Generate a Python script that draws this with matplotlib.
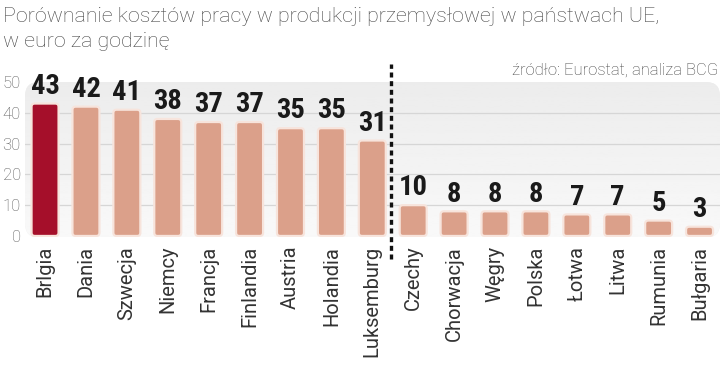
import numpy as np
import matplotlib
matplotlib.use('Agg')
import matplotlib.pyplot as plt
from matplotlib.patches import FancyBboxPatch
from matplotlib import font_manager

# Dane
kraje = ['Brlgia', 'Dania', 'Szwecja', 'Niemcy', 'Francja', 'Finlandia',
         'Austria', 'Holandia', 'Luksemburg', 'Czechy', 'Chorwacja', 'Węgry',
         'Polska', 'Łotwa', 'Litwa', 'Rumunia', 'Bułgaria']
koszt = [43, 42, 41, 38, 37, 37, 35, 35, 31, 10, 8, 8, 8, 7, 7, 5, 3]
yticks = [0, 10, 20, 30, 40, 50]

tytul = 'Porównanie kosztów pracy w produkcji przemysłowej w państwach UE,\nw euro za godzinę'
zrodlo = 'źródło: Eurostat, analiza BCG'

fonts = set(f.name for f in font_manager.fontManager.ttflist)


def pick(*cands):
    for c in cands:
        if c in fonts:
            return c
    return 'DejaVu Sans'


f_light = pick('Roboto', 'Open Sans')
f_num = pick('Roboto Condensed', 'Fira Sans Condensed', 'Asap Condensed',
             'Liberation Sans Narrow')

fig = plt.figure(figsize=(7.2, 3.68), dpi=100)
ax = fig.add_axes([25 / 720, 1 - 237.5 / 368, 1 - 25 / 720, (237.5 - 82) / 368])

# tlo z zaokraglonym rogiem
tlo = FancyBboxPatch((0, 0), 1, 1.0, boxstyle='round,pad=0,rounding_size=0.02',
                     mutation_aspect=4.5, transform=ax.transAxes,
                     facecolor='#f1f1f1', edgecolor='none', zorder=0)
ax.add_patch(tlo)
grad = np.linspace(0.925, 0.975, 100).reshape(-1, 1)
im = ax.imshow(grad, extent=[0, 1, 0, 1], transform=ax.transAxes, cmap='gray',
               vmin=0, vmax=1, aspect='auto', zorder=0.5)
im.set_clip_path(tlo)
ax.set_xlim(-0.49, 16.5)
ax.set_ylim(-0.5, 50)

for y in yticks[1:-1]:
    ax.axhline(y, color='#d6d6d6', lw=0.9, zorder=1)

x = np.arange(len(kraje))
kolory = ['#a50f2a'] + ['#dba08a'] * (len(kraje) - 1)
bars = ax.bar(x, koszt, width=0.66, color='none', edgecolor='none')
for b, c in zip(bars, kolory):
    p = FancyBboxPatch((b.get_x(), 0), b.get_width(), b.get_height(),
                       boxstyle='round,pad=0,rounding_size=0.08',
                       mutation_aspect=13.2, facecolor=c,
                       edgecolor='#f7e4dc', lw=1.6, zorder=2)
    ax.add_patch(p)
    ax.text(b.get_x() + b.get_width() / 2, b.get_height() + 1.2,
            str(int(b.get_height())), ha='center', va='bottom',
            fontsize=20.5, fontweight='bold', family=f_num, color='#1a1a1a')

ax.plot([8.46, 8.46], [-7.5, 56], color='#111111',
        lw=2.4, ls=(0, (1.5, 1.1)), clip_on=False, zorder=3)

ax.set_yticks(yticks)
ax.set_yticklabels([str(v) for v in yticks], fontsize=12, color='#555555',
                   family=f_light, fontweight='light')
ax.set_xticks(x)
ax.set_xticklabels(kraje, rotation=90, fontsize=14.5, color='#333333',
                   family=f_light, va='top')
ax.tick_params(axis='y', length=0, pad=3)
ax.tick_params(axis='x', length=0, pad=6)
for s in ax.spines.values():
    s.set_visible(False)
ax.set_facecolor('none')

fig.text(3 / 720, 1 - 7 / 368, tytul, ha='left', va='top', fontsize=15.4,
         color='#444444', family=f_light, fontweight='light', linespacing=1.42)
fig.text(718 / 720, 1 - 70 / 368, zrodlo, ha='right', va='center',
         fontsize=12, color='#444444', family=f_light, fontweight='light')

fig.savefig('out.png', dpi=100)
